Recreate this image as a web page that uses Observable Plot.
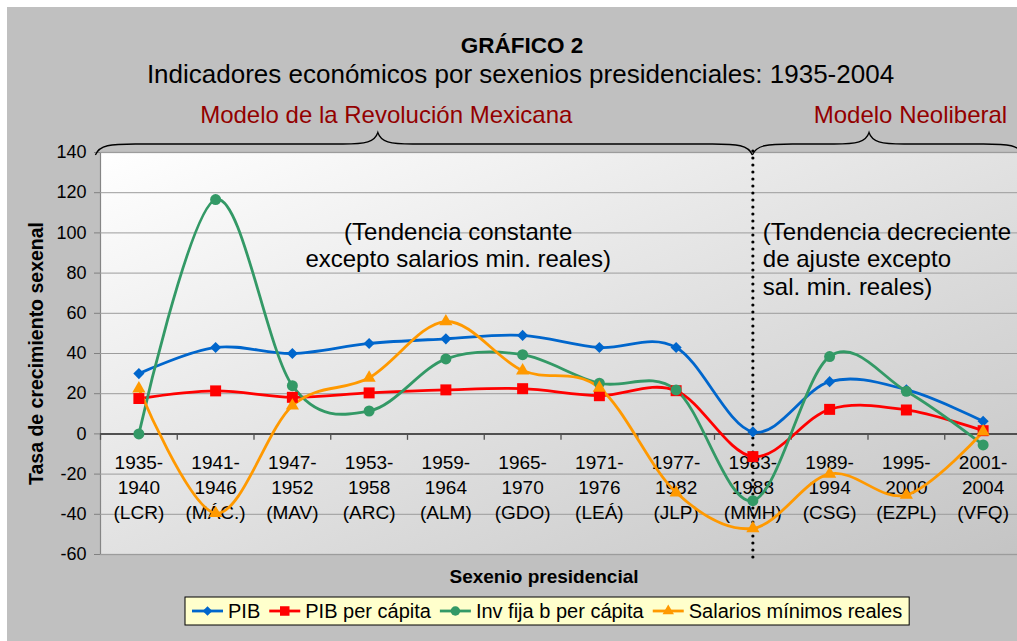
<!DOCTYPE html>
<html><head><meta charset="utf-8">
<script src="https://cdn.jsdelivr.net/npm/d3@7"></script>
<script src="https://cdn.jsdelivr.net/npm/@observablehq/plot@0.6"></script>
<style>
body{margin:0;background:#fff;}
#wrap{position:relative;width:1017px;height:641px;overflow:hidden;background:#fff;}
#bg{position:absolute;left:7px;top:7px;right:0;bottom:0;background:#c0c0c0;}
#wrap svg{position:absolute;left:0;top:0;}
</style></head><body><div id="wrap"><div id="bg"></div></div>
<script>
// ---- data ----
const periodStart = ["1935","1941","1947","1953","1959","1965","1971","1977","1983","1989","1995","2001"];
const periodEnd   = ["1940","1946","1952","1958","1964","1970","1976","1982","1988","1994","2000","2004"];
const presidents  = ["LCR","MÁC.","MAV","ARC","ALM","GDO","LEÁ","JLP","MMH","CSG","EZPL","VFQ"];
const seriesNames = ["PIB","PIB per cápita","Inv fija b per cápita","Salarios mínimos reales"];
const pib          = [30, 43, 40, 45, 47.3, 49, 43, 43, 1, 26, 22, 6.3];
const pibPerCapita = [17.6, 21.4, 18.2, 20.4, 21.9, 22.5, 19, 21.5, -11.3, 12.2, 11.9, 1.6];
const invFija      = [0, 116.6, 24, 11.4, 37.3, 39.4, 25.2, 21.9, -33.2, 38.5, 21.2, -5.5];
const salarios     = [22.5, -39.5, 14, 27.9, 55.9, 31.5, 22.9, -29.2, -47, -19.9, -30.4, 1.1];
const yTicks = [-60, -40, -20, 0, 20, 40, 60, 80, 100, 120, 140];
const title = "GRÁFICO 2";
const subtitle = "Indicadores económicos por sexenios presidenciales: 1935-2004";
const models = ["Modelo de la Revolución Mexicana", "Modelo Neoliberal"];
const notes = ["(Tendencia constante\nexcepto salarios min. reales)", "(Tendencia decreciente\nde ajuste excepto\nsal. min. reales)"];
const xTitle = "Sexenio presidencial";
const yTitle = "Tasa de crecimiento sexenal";
const dividerIndex = 8;

// ---- styles / layout ----
const FONT = '"Liberation Sans", Arial, Helvetica, sans-serif';
const colors = ["#0066CC", "#FF0000", "#339966", "#FF9900"];
const symbols = ["diamond2", "square", "circle", "triangle"];
const radii = [5.0, 6.2, 5.5, 4.9];
const values = [pib, pibPerCapita, invFija, salarios];
const categories = periodStart.map((s, i) => `${s}-\n${periodEnd[i]}\n(${presidents[i]})`);
const rows = seriesNames.flatMap((s, k) => values[k].map((v, i) => ({series: s, i, value: v})));

const marks = [
  Plot.frame({fill: "url(#plotBg)", stroke: "#858585", strokeWidth: 1.2}),
  Plot.ruleY(yTicks.filter(d => d !== 0), {stroke: "#9c9c9c", strokeWidth: 1}),
  Plot.axisY({ticks: yTicks, tickSize: 6, tickPadding: 8, tickFormat: d => String(d), fontSize: 18, stroke: "#808080", fill: "#000", label: null}),
  Plot.ruleY([0], {stroke: "#505050", strokeWidth: 2}),
  Plot.ruleX(d3.range(13).map(k => k - 0.5), {y1: 0, y2: -3.2, stroke: "#505050", strokeWidth: 1.3}),
  Plot.text(categories, {x: (d, i) => i, y: () => 0, text: d => d, lineAnchor: "bottom", lineHeight: 25 / 19, dy: 85, fontSize: 19, fill: "#000"}),
  Plot.text([notes[0]], {x: () => 4.16, y: () => 82.9, text: d => d, textAnchor: "middle", lineAnchor: "bottom", lineHeight: 27.5 / 24, fontSize: 24, fill: "#000"}),
  Plot.text([notes[1]], {x: () => 8.13, y: () => 69.35, text: d => d, textAnchor: "start", lineAnchor: "bottom", lineHeight: 27.5 / 24, fontSize: 24, fill: "#000"}),
  Plot.ruleX([dividerIndex], {y1: -61.5, y2: 142.5, stroke: "#000", strokeWidth: 3.2, strokeDasharray: "0 7", strokeLinecap: "round"}),
  ...seriesNames.map((s, k) => Plot.line(rows.filter(r => r.series === s), {x: "i", y: "value", stroke: colors[k], strokeWidth: 2.8, curve: "cardinal"})),
  ...seriesNames.map((s, k) => Plot.dot(rows.filter(r => r.series === s), {x: "i", y: "value", symbol: symbols[k], r: radii[k], fill: colors[k], stroke: "none"}))
];

const plot = Plot.plot({
  width: 1030, height: 641,
  marginLeft: 100, marginRight: 9, marginTop: 152, marginBottom: 87,
  style: {fontFamily: FONT, fontSize: "18px", background: "transparent", color: "#000", overflow: "visible", maxWidth: "none"},
  x: {type: "linear", domain: [-0.5, 11.5], axis: null},
  y: {domain: [-60, 140], axis: null},
  marks
});
plot.style.maxWidth = "none";
const ns = "http://www.w3.org/2000/svg";
const defs = document.createElementNS(ns, "defs");
defs.innerHTML = '<linearGradient id="plotBg" x1="0" y1="0" x2="1" y2="1"><stop offset="0" stop-color="#ffffff"/><stop offset="1" stop-color="#c4c4c4"/></linearGradient>';
plot.insertBefore(defs, plot.firstChild);
document.getElementById("wrap").appendChild(plot);

// ---- overlay: titles, braces, axis titles, legend ----
const xs = plot.scale("x"), ys = plot.scale("y");
const frameTop = ys.apply(140);
const ov = d3.select("#wrap").append("svg").attr("width", 1017).attr("height", 641)
  .style("font-family", FONT).style("pointer-events", "none");

ov.append("text").attr("x", 522).attr("y", 53).attr("text-anchor", "middle")
  .attr("font-weight", "bold").attr("font-size", 22.5).attr("fill", "#000").text(title);
ov.append("text").attr("x", 520.5).attr("y", 83).attr("text-anchor", "middle")
  .attr("font-size", 26).attr("fill", "#000").text(subtitle);

const braceLayout = [{from: -0.56, to: dividerIndex, tip: 3.12, label: 3.23},
                     {from: dividerIndex, to: 11.53, tip: 9.52, label: 10.06}];
braceLayout.forEach((b, k) => {
  const X0 = xs.apply(b.from), X1 = xs.apply(b.to), XT = xs.apply(b.tip);
  const yb = frameTop + 3, yh = frameTop - 8, yt = frameTop - 19.5;
  const p = `M${X0},${yb} C${X0 + 4},${yh + 1} ${X0 + 15},${yh} ${X0 + 40},${yh} L${XT - 35},${yh} C${XT - 12},${yh} ${XT - 3},${yh - 2} ${XT},${yt} C${XT + 3},${yh - 2} ${XT + 12},${yh} ${XT + 35},${yh} L${X1 - 40},${yh} C${X1 - 15},${yh} ${X1 - 4},${yh + 1} ${X1},${yb}`;
  ov.append("path").attr("d", p).attr("fill", "none").attr("stroke", "#000").attr("stroke-width", 1.3);
  ov.append("text").attr("x", xs.apply(b.label)).attr("y", frameTop - 29).attr("text-anchor", "middle")
    .attr("font-size", 24).attr("fill", "#930000").text(models[k]);
});

ov.append("text").attr("x", 544).attr("y", 583).attr("text-anchor", "middle")
  .attr("font-weight", "bold").attr("font-size", 19).attr("fill", "#000").text(xTitle);
ov.append("text").attr("transform", "translate(42.7,353.5) rotate(-90)").attr("text-anchor", "middle")
  .attr("font-weight", "bold").attr("font-size", 19.5).attr("fill", "#000").text(yTitle);

// legend
const lg = ov.append("g");
const box = lg.append("rect").attr("x", 185).attr("y", 597).attr("height", 28)
  .attr("fill", "#ffffcc").attr("stroke", "#000").attr("stroke-width", 1);
const symMap = {diamond2: d3.symbolDiamond2, square: d3.symbolSquare, circle: d3.symbolCircle, triangle: d3.symbolTriangle};
let cx = 192;
seriesNames.forEach((s, k) => {
  lg.append("line").attr("x1", cx).attr("x2", cx + 31).attr("y1", 611).attr("y2", 611)
    .attr("stroke", colors[k]).attr("stroke-width", 2.8);
  lg.append("path").attr("transform", `translate(${cx + 15.5},611)`)
    .attr("d", d3.symbol(symMap[symbols[k]], Math.PI * radii[k] * radii[k] * 0.75)()).attr("fill", colors[k]);
  const t = lg.append("text").attr("x", cx + 36).attr("y", 618).attr("font-size", 20).attr("fill", "#000").text(s);
  const w = t.node().getComputedTextLength();
  cx = cx + 36 + w + 9;
});
box.attr("width", cx - 185 - 2);
</script></body></html>
